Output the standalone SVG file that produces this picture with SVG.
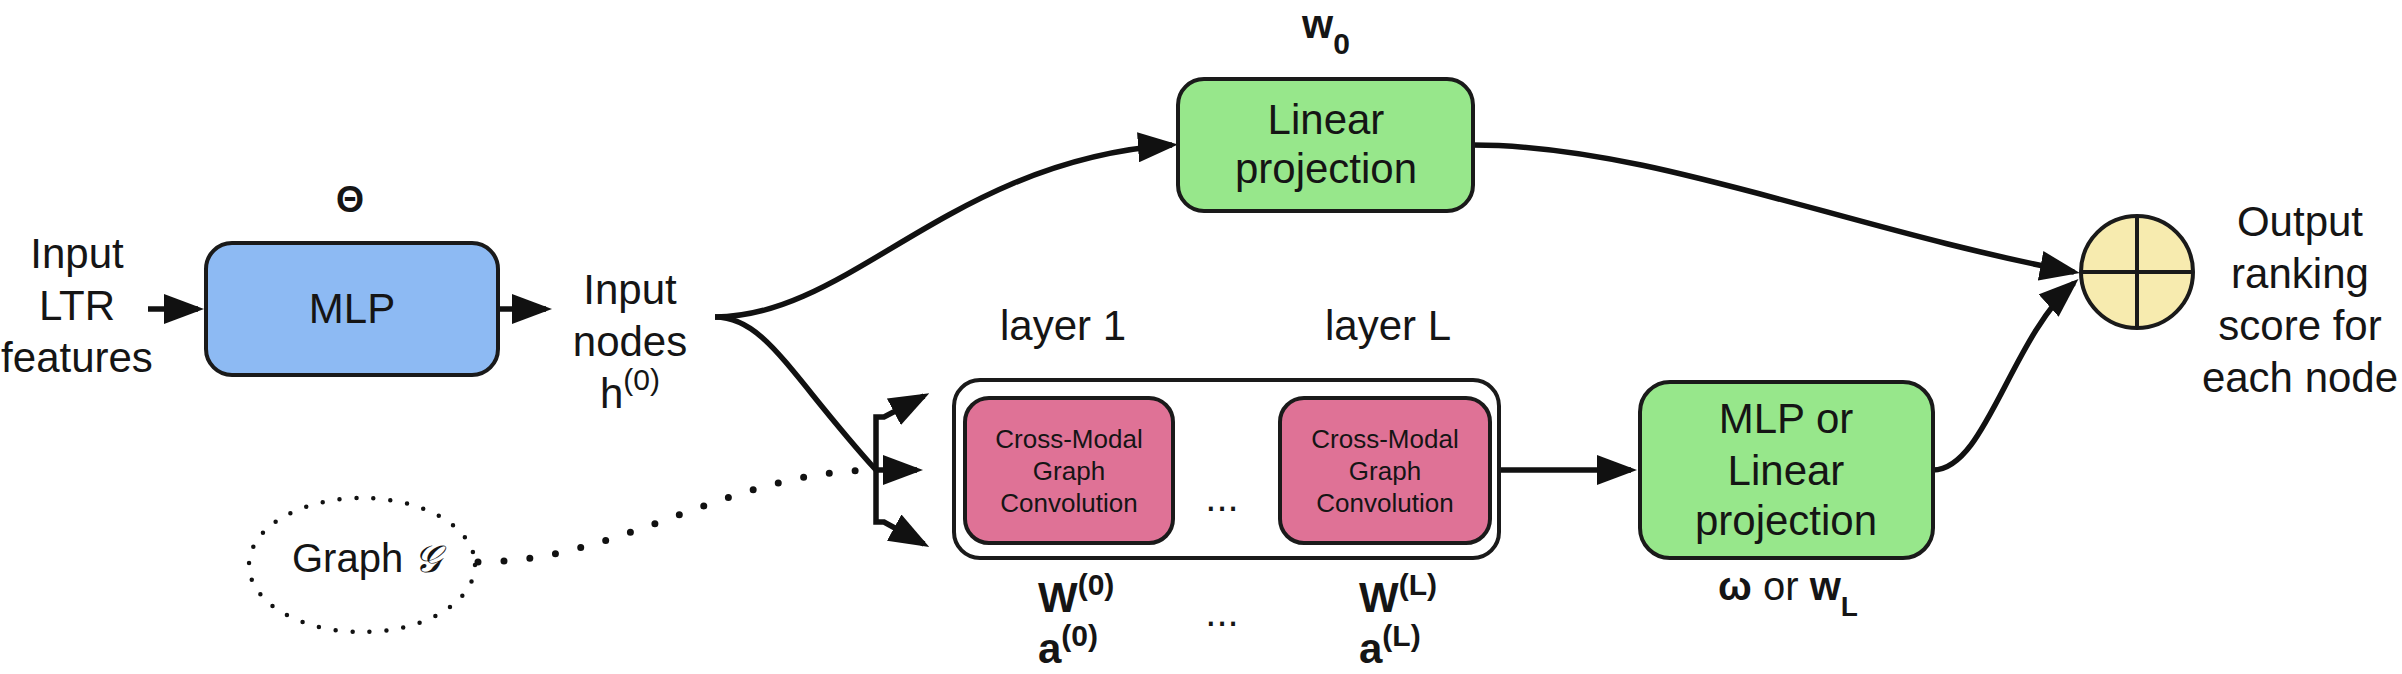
<svg xmlns="http://www.w3.org/2000/svg" width="2402" height="674" viewBox="0 0 2402 674">
<defs>
<style>
.t{font-family:"Liberation Sans",Arial,sans-serif;font-size:42px;fill:#151515;text-anchor:middle}
.s{font-family:"Liberation Sans",Arial,sans-serif;font-size:42px;fill:#151515}
.b{font-weight:bold}
.sm{font-size:26px}
.box{stroke:#1a1a1a;stroke-width:4}
.conn{fill:none;stroke:#111;stroke-width:5.5}
</style>
<marker id="arr" viewBox="0 0 40 30" refX="34" refY="15" markerWidth="40" markerHeight="30" markerUnits="userSpaceOnUse" orient="auto">
<path d="M0,0 L40,15 L0,30 z" fill="#111"/>
</marker>
<marker id="arrs" viewBox="0 0 28 18" refX="24" refY="9" markerWidth="28" markerHeight="18" markerUnits="userSpaceOnUse" orient="auto">
<path d="M0,0 L28,9 L0,18 z" fill="#111"/>
</marker>
</defs>
<rect width="2402" height="674" fill="#fff"/>

<g id="connectors">
<path class="conn" d="M148,309 H198" marker-end="url(#arr)"/>
<path class="conn" d="M498,309 H546" marker-end="url(#arr)"/>
<path class="conn" d="M715,317 C850,317 950,160 1172,145" marker-end="url(#arr)"/>
<path class="conn" d="M715,317 C765,317 790,375 876,470"/>
<path class="conn" d="M876,470 V417 H884 L924,396" marker-end="url(#arr)"/>
<path class="conn" d="M876,470 H917" marker-end="url(#arr)"/>
<path class="conn" d="M876,470 V522 H884 L924,544" marker-end="url(#arr)"/>
<path d="M478,562 C620,562 720,475 868,470" fill="none" stroke="#111" stroke-width="7" stroke-linecap="round" stroke-dasharray="0 26"/>
<path fill="none" stroke="#111" stroke-width="3.5" d="M1173,470 H1276" marker-end="url(#arrs)"/>
<path class="conn" d="M1499,470 H1631" marker-end="url(#arr)"/>
<path class="conn" d="M1473,145 C1650,145 1850,230 2074,272" marker-end="url(#arr)"/>
<path class="conn" d="M1933,470 C1985,470 2010,340 2074,283" marker-end="url(#arr)"/>
</g>

<g id="input-ltr">
<text class="t" x="77" y="268">Input</text>
<text class="t" x="77" y="320">LTR</text>
<text class="t" x="77" y="372">features</text>
</g>

<g id="mlp">
<text class="t b" x="350" y="212" style="font-size:36px">Θ</text>
<rect class="box" x="206" y="243" width="292" height="132" rx="26" fill="#8DBAF3"/>
<text class="t" x="352" y="323">MLP</text>
</g>

<g id="input-nodes">
<text class="t" x="630" y="304">Input</text>
<text class="t" x="630" y="356">nodes</text>
<text class="t" x="630" y="408">h<tspan style="font-size:30px" dy="-18">(0)</tspan></text>
</g>

<g id="linear-top">
<text class="t b" x="1326" y="38" style="font-size:40px">w<tspan style="font-size:30px" dy="16">0</tspan></text>
<rect class="box" x="1178" y="79" width="295" height="132" rx="26" fill="#97E78B"/>
<text class="t" x="1326" y="134">Linear</text>
<text class="t" x="1326" y="183">projection</text>
</g>

<g id="graph">
<ellipse cx="362" cy="565" rx="113" ry="67" fill="none" stroke="#111" stroke-width="4.5" stroke-linecap="round" stroke-dasharray="0 17"/>
<text class="s" x="292" y="572" style="font-size:40px">Graph <tspan style="font-family:'DejaVu Serif','DejaVu Sans',serif;font-style:italic;font-size:38px">𝒢</tspan></text>
</g>

<g id="gcn-stack">
<text class="t" x="1063" y="340">layer 1</text>
<text class="t" x="1388" y="340">layer L</text>
<rect class="box" x="954" y="380" width="545" height="178" rx="26" fill="#fff"/>
<text class="t" x="1222" y="511" style="font-size:40px">...</text>
<text class="s b" x="1038" y="612">W<tspan style="font-size:30px" dy="-17">(0)</tspan></text>
<text class="s b" x="1038" y="663">a<tspan style="font-size:30px" dy="-17">(0)</tspan></text>
<text class="t" x="1222" y="626" style="font-size:40px">...</text>
<text class="s b" x="1359" y="612">W<tspan style="font-size:30px" dy="-17">(L)</tspan></text>
<text class="s b" x="1359" y="663">a<tspan style="font-size:30px" dy="-17">(L)</tspan></text>
</g>

<g id="gcn-1">
<rect class="box" x="965" y="398" width="208" height="145" rx="24" fill="#DF7296"/>
<text class="t sm" x="1069" y="448">Cross-Modal</text>
<text class="t sm" x="1069" y="480">Graph</text>
<text class="t sm" x="1069" y="512">Convolution</text>
</g>

<g id="gcn-L">
<rect class="box" x="1280" y="398" width="210" height="145" rx="24" fill="#DF7296"/>
<text class="t sm" x="1385" y="448">Cross-Modal</text>
<text class="t sm" x="1385" y="480">Graph</text>
<text class="t sm" x="1385" y="512">Convolution</text>
</g>

<g id="readout">
<rect class="box" x="1640" y="382" width="293" height="176" rx="30" fill="#97E78B"/>
<text class="t" x="1786" y="433">MLP or</text>
<text class="t" x="1786" y="485">Linear</text>
<text class="t" x="1786" y="535">projection</text>
<text class="t" x="1788" y="600" style="font-size:40px"><tspan class="b">ω</tspan> or <tspan class="b">w</tspan><tspan class="b" style="font-size:28px" dy="16">L</tspan></text>
</g>

<g id="sum">
<circle cx="2137" cy="272" r="56" fill="#F7EBAF" stroke="#1a1a1a" stroke-width="4"/>
<path d="M2137,216 V328 M2081,272 H2193" stroke="#1a1a1a" stroke-width="4"/>
</g>

<g id="output">
<text class="t" x="2300" y="236">Output</text>
<text class="t" x="2300" y="288">ranking</text>
<text class="t" x="2300" y="340">score for</text>
<text class="t" x="2300" y="392">each node</text>
</g>
</svg>
